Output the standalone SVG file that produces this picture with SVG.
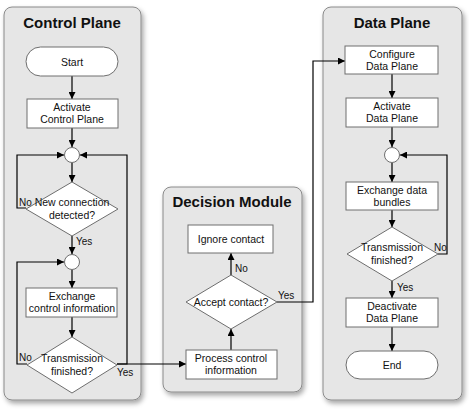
<svg xmlns="http://www.w3.org/2000/svg" width="469" height="417" viewBox="0 0 469 417">
<defs>
<filter id="sh" x="-10%" y="-10%" width="125%" height="125%">
<feDropShadow dx="2" dy="3" stdDeviation="2.5" flood-color="#000" flood-opacity="0.35"/>
</filter>
<marker id="ar" viewBox="0 0 10 10" refX="10" refY="5" markerWidth="7" markerHeight="7" markerUnits="userSpaceOnUse" orient="auto">
<path d="M0,0 L10,5 L0,10 z" fill="#000"/>
</marker>
</defs>
<style>
.panel{fill:#e6e6e6;stroke:#8a8a8a;stroke-width:1;filter:url(#sh)}
.box{fill:#fff;stroke:#6e6e6e;stroke-width:1}
.t{font-family:"Liberation Sans",Arial,sans-serif;font-size:10.5px;fill:#111;text-anchor:middle}
.lbl{font-family:"Liberation Sans",Arial,sans-serif;font-size:10px;fill:#111}
.title{font-family:"Liberation Sans",Arial,sans-serif;font-size:15px;font-weight:bold;fill:#111;text-anchor:middle}
.c{fill:none;stroke:#000;stroke-width:1.2}
.a{marker-end:url(#ar)}
</style>
<g id="panels">
<rect class="panel" x="4" y="7" width="137" height="393" rx="8"/>
<rect class="panel" x="163" y="187" width="139" height="205" rx="8"/>
<rect class="panel" x="323" y="7" width="139" height="393" rx="8"/>
<text class="title" x="72" y="28">Control Plane</text>
<text class="title" x="232" y="207">Decision Module</text>
<text class="title" x="392" y="28">Data Plane</text>
</g>
<g id="connectors">
<path class="c a" d="M72,76 V99"/>
<path class="c a" d="M72,128 V147"/>
<path class="c a" d="M72,163 V182"/>
<path class="c a" d="M26,208 H17 V155 H64"/>
<path class="c a" d="M117,364 H127 V155 H80"/>
<path class="c a" d="M72,236 V254"/>
<path class="c a" d="M72,270 V288"/>
<path class="c a" d="M72,317 V337"/>
<path class="c a" d="M27,364 H17 V262 H64"/>
<path class="c a" d="M117,364 H186"/>
<path class="c a" d="M231,350 V329"/>
<path class="c a" d="M231,275 V253"/>
<path class="c a" d="M277,302 H313 V61 H345"/>
<path class="c a" d="M392,74 V98"/>
<path class="c a" d="M392,127 V147"/>
<path class="c a" d="M392,163 V182"/>
<path class="c a" d="M392,210 V227"/>
<path class="c a" d="M438,254 H447 V155 H400"/>
<path class="c a" d="M392,281 V298"/>
<path class="c a" d="M392,327 V351"/>
<text class="lbl" x="19" y="206">No</text>
<text class="lbl" x="76" y="245">Yes</text>
<text class="lbl" x="19" y="361">No</text>
<text class="lbl" x="117" y="376">Yes</text>
<text class="lbl" x="235" y="272">No</text>
<text class="lbl" x="278" y="299">Yes</text>
<text class="lbl" x="434" y="251">No</text>
<text class="lbl" x="397" y="291">Yes</text>
</g>
<g id="start"><rect class="box" x="26" y="47" width="92" height="29" rx="14.5"/><text class="t" x="72" y="65.5">Start</text></g>
<g id="activate-cp"><rect class="box" x="27" y="99" width="91" height="29"/><text class="t" x="72" y="111">Activate</text><text class="t" x="72" y="123">Control Plane</text></g>
<g id="merge1"><circle class="box" cx="72" cy="155" r="7.5"/></g>
<g id="new-conn"><polygon class="box" points="72,182 118,209 72,236 26,209"/><text class="t" x="72" y="206">New connection</text><text class="t" x="72" y="219">detected?</text></g>
<g id="merge2"><circle class="box" cx="72" cy="262" r="7.5"/></g>
<g id="exch-ctrl"><rect class="box" x="26" y="288" width="91" height="29"/><text class="t" x="72" y="300">Exchange</text><text class="t" x="72" y="312">control information</text></g>
<g id="tx-fin-cp"><polygon class="box" points="72,337 117,365 72,393 27,365"/><text class="t" x="72" y="362">Transmission</text><text class="t" x="72" y="375">finished?</text></g>
<g id="ignore"><rect class="box" x="188" y="225" width="85" height="28"/><text class="t" x="231" y="243">Ignore contact</text></g>
<g id="accept"><polygon class="box" points="231,275 277,302 231,329 186,302"/><text class="t" x="231" y="306">Accept contact?</text></g>
<g id="process"><rect class="box" x="186" y="350" width="91" height="29"/><text class="t" x="231" y="362">Process control</text><text class="t" x="231" y="374">information</text></g>
<g id="configure"><rect class="box" x="345" y="46" width="93" height="28"/><text class="t" x="392" y="58">Configure</text><text class="t" x="392" y="70">Data Plane</text></g>
<g id="activate-dp"><rect class="box" x="346" y="98" width="92" height="29"/><text class="t" x="392" y="110">Activate</text><text class="t" x="392" y="122">Data Plane</text></g>
<g id="merge3"><circle class="box" cx="392" cy="155" r="7.5"/></g>
<g id="exch-data"><rect class="box" x="346" y="182" width="92" height="28"/><text class="t" x="392" y="194">Exchange data</text><text class="t" x="392" y="206">bundles</text></g>
<g id="tx-fin-dp"><polygon class="box" points="392,227 438,254 392,281 347,254"/><text class="t" x="392" y="251">Transmission</text><text class="t" x="392" y="264">finished?</text></g>
<g id="deactivate"><rect class="box" x="346" y="298" width="92" height="29"/><text class="t" x="392" y="310">Deactivate</text><text class="t" x="392" y="322">Data Plane</text></g>
<g id="end"><rect class="box" x="346" y="351" width="92" height="28" rx="14"/><text class="t" x="392" y="369">End</text></g>
</svg>
